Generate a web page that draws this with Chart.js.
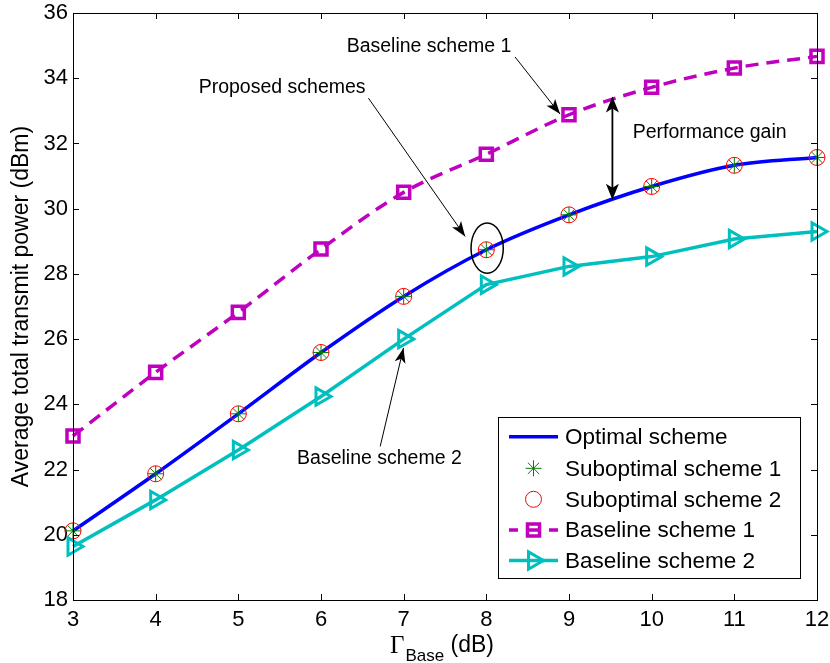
<!DOCTYPE html>
<html><head><meta charset="utf-8">
<script src="https://cdn.jsdelivr.net/npm/chart.js@4/dist/chart.umd.min.js"></script>
<style>html,body{margin:0;padding:0;background:#fff;}#wrap{width:830px;height:663px;position:relative;}</style>
</head><body><div id="wrap"><canvas id="c" width="830" height="663"></canvas></div>
<script>
// ---- data ----
const xValues = [3, 4, 5, 6, 7, 8, 9, 10, 11, 12];
const optimal = [20.12, 21.87, 23.71, 25.59, 27.31, 28.74, 29.81, 30.68, 31.33, 31.57];
const suboptimal1 = [20.12, 21.87, 23.71, 25.59, 27.31, 28.74, 29.81, 30.68, 31.33, 31.57];
const suboptimal2 = [20.12, 21.87, 23.71, 25.59, 27.31, 28.74, 29.81, 30.68, 31.33, 31.57];
const baseline1 = [23.03, 24.98, 26.82, 28.76, 30.50, 31.67, 32.88, 33.72, 34.31, 34.67];
const baseline2 = [19.64, 21.07, 22.60, 24.24, 26.00, 27.67, 28.23, 28.53, 29.07, 29.30];
const seriesNames = ['Optimal scheme', 'Suboptimal scheme 1', 'Suboptimal scheme 2', 'Baseline scheme 1', 'Baseline scheme 2'];
const xTicks = [3, 4, 5, 6, 7, 8, 9, 10, 11, 12];
const yTicks = [18, 20, 22, 24, 26, 28, 30, 32, 34, 36];
const yAxisTitle = 'Average total transmit power (dBm)';
const xAxisTitle = ['\u0393', 'Base', '(dB)'];
const annotationTexts = [
  { text: 'Baseline scheme 1', x: 6.31, y: 34.98 },
  { text: 'Proposed schemes', x: 4.52, y: 33.71 },
  { text: 'Performance gain', x: 9.77, y: 32.34 },
  { text: 'Baseline scheme 2', x: 5.71, y: 22.35 }
];
const arrowFrom = [[8.348, 34.65], [6.574, 33.39], [6.716, 22.71]];
const arrowTo = [[8.892, 32.90], [7.744, 29.15], [6.998, 25.73]];
const gainArrow = { x: 9.525, y1: 33.44, y2: 30.27 };
const ellipseMark = { x: 8.01, y: 28.79, rx: 0.195, ry: 0.77 };

// ---- styles ----
const FONT = '"Liberation Sans", Arial, Helvetica, sans-serif';
const BLUE = '#0000FF', GREEN = '#008000', RED = '#FF0000', MAG = '#BF00BF', CYAN = '#00BFBF';

const pts = arr => xValues.map((x, i) => ({ x: x, y: arr[i] }));

function drawMarker(ctx, style, x, y, r, color, lw, rot) {
  ctx.save();
  ctx.strokeStyle = color; ctx.lineWidth = lw; ctx.setLineDash([]);
  ctx.beginPath();
  if (style === 'star') {
    for (let k = 0; k < 4; k++) {
      const a = k * Math.PI / 4;
      ctx.moveTo(x - Math.cos(a) * r, y - Math.sin(a) * r);
      ctx.lineTo(x + Math.cos(a) * r, y + Math.sin(a) * r);
    }
  } else if (style === 'circle') {
    ctx.arc(x, y, r, 0, Math.PI * 2);
  } else if (style === 'rect') {
    const s = r * Math.SQRT1_2;
    ctx.rect(x - s, y - s, 2 * s, 2 * s);
  } else if (style === 'triangle') {
    let rad = (rot || 0) * Math.PI / 180;
    ctx.moveTo(x + Math.sin(rad) * r, y - Math.cos(rad) * r);
    rad += 2 * Math.PI / 3;
    ctx.lineTo(x + Math.sin(rad) * r, y - Math.cos(rad) * r);
    rad += 2 * Math.PI / 3;
    ctx.lineTo(x + Math.sin(rad) * r, y - Math.cos(rad) * r);
    ctx.closePath();
  }
  ctx.stroke();
  ctx.restore();
}

function arrowHead(ctx, x1, y1, x2, y2, len, half) {
  const a = Math.atan2(y2 - y1, x2 - x1);
  const c = Math.cos(a), s = Math.sin(a);
  const bx = x2 - c * len, by = y2 - s * len;
  const ix = x2 - c * len * 0.75, iy = y2 - s * len * 0.75;
  ctx.beginPath();
  ctx.moveTo(x2, y2);
  ctx.lineTo(bx - s * half, by + c * half);
  ctx.lineTo(ix, iy);
  ctx.lineTo(bx + s * half, by - c * half);
  ctx.closePath();
  ctx.fill();
}

const extras = {
  id: 'extras',
  afterDraw(chart) {
    const ctx = chart.ctx, a = chart.chartArea;
    const xs = chart.scales.x, ys = chart.scales.y;
    const px = v => xs.getPixelForValue(v), py = v => ys.getPixelForValue(v);
    ctx.save();
    // box
    ctx.strokeStyle = '#000'; ctx.lineWidth = 1; ctx.setLineDash([]);
    ctx.strokeRect(Math.round(a.left) + 0.5, Math.round(a.top) + 0.5, Math.round(a.right - a.left), Math.round(a.bottom - a.top));
    const T = 6;
    ctx.beginPath();
    xTicks.forEach(t => {
      const x = Math.round(px(t)) + 0.5;
      ctx.moveTo(x, a.bottom); ctx.lineTo(x, a.bottom - T);
      ctx.moveTo(x, a.top); ctx.lineTo(x, a.top + T);
    });
    yTicks.forEach(t => {
      const y = Math.round(py(t)) + 0.5;
      ctx.moveTo(a.left, y); ctx.lineTo(a.left + T, y);
      ctx.moveTo(a.right, y); ctx.lineTo(a.right - T, y);
    });
    ctx.stroke();

    // axis titles
    ctx.fillStyle = '#000';
    ctx.save();
    ctx.translate(22, (a.top + a.bottom) / 2);
    ctx.rotate(-Math.PI / 2);
    ctx.font = '23px ' + FONT;
    ctx.textAlign = 'center'; ctx.textBaseline = 'middle';
    ctx.fillText(yAxisTitle, 0, 0);
    ctx.restore();

    const fG = '25px "Liberation Serif", "Times New Roman", serif';
    const fS = '17px ' + FONT, fD = '23px ' + FONT;
    ctx.textBaseline = 'alphabetic'; ctx.textAlign = 'left';
    ctx.font = fG; const wG = ctx.measureText(xAxisTitle[0]).width;
    ctx.font = fS; const wS = ctx.measureText(xAxisTitle[1]).width;
    ctx.font = fD; const wD = ctx.measureText(' ' + xAxisTitle[2]).width;
    const total = wG + 1 + wS + wD;
    let sx = (a.left + a.right) / 2 - total / 2 - 3;
    ctx.font = fG; ctx.fillText(xAxisTitle[0], sx, 653); sx += wG + 1;
    ctx.font = fS; ctx.fillText(xAxisTitle[1], sx, 661); sx += wS;
    ctx.font = fD; ctx.fillText(' ' + xAxisTitle[2], sx, 652);

    // annotations
    ctx.font = '19.5px ' + FONT;
    ctx.textBaseline = 'middle'; ctx.textAlign = 'left';
    annotationTexts.forEach(t => ctx.fillText(t.text, px(t.x), py(t.y)));
    ctx.strokeStyle = '#000'; ctx.fillStyle = '#000'; ctx.lineWidth = 1;
    arrowFrom.forEach((f, i) => {
      const x1 = px(f[0]), y1 = py(f[1]), x2 = px(arrowTo[i][0]), y2 = py(arrowTo[i][1]);
      ctx.beginPath(); ctx.moveTo(x1, y1); ctx.lineTo(x2, y2); ctx.stroke();
      arrowHead(ctx, x1, y1, x2, y2, 15, 5.5);
    });
    {
      const gx = px(gainArrow.x), g1 = py(gainArrow.y1), g2 = py(gainArrow.y2);
      ctx.lineWidth = 1.8;
      ctx.beginPath(); ctx.moveTo(gx, g1 + 6); ctx.lineTo(gx, g2 - 6); ctx.stroke();
      arrowHead(ctx, gx, g2, gx, g1, 16, 6.5);
      arrowHead(ctx, gx, g1, gx, g2, 16, 6.5);
    }
    {
      const ex = px(ellipseMark.x), ey = py(ellipseMark.y);
      const rx = Math.abs(px(ellipseMark.x + ellipseMark.rx) - ex);
      const ry = Math.abs(py(ellipseMark.y + ellipseMark.ry) - ey);
      ctx.lineWidth = 1.5;
      ctx.beginPath(); ctx.ellipse(ex, ey, rx, ry, 0, 0, Math.PI * 2); ctx.stroke();
    }

    // legend
    const L = { x: 498.5, y: 417.5, w: 302, h: 161 };
    ctx.fillStyle = '#fff'; ctx.fillRect(L.x, L.y, L.w, L.h);
    ctx.strokeStyle = '#000'; ctx.lineWidth = 1; ctx.strokeRect(L.x, L.y, L.w, L.h);
    const rowY = [436.7, 468.3, 499.3, 530, 560.5];
    const lx1 = 509, lx2 = 558, mx = 533.5, tx = 565;
    ctx.font = '22.5px ' + FONT; ctx.textBaseline = 'middle'; ctx.textAlign = 'left';
    chart.data.datasets.forEach((ds, i) => {
      const y = rowY[i];
      if (ds.showLine !== false) {
        ctx.save();
        ctx.strokeStyle = ds.borderColor; ctx.lineWidth = ds.borderWidth;
        if (ds.borderDash) {
          ctx.beginPath(); ctx.moveTo(lx1, y); ctx.lineTo(lx1 + 9, y); ctx.moveTo(lx2 - 9, y); ctx.lineTo(lx2, y); ctx.stroke();
        } else {
          ctx.beginPath(); ctx.moveTo(lx1, y); ctx.lineTo(lx2, y); ctx.stroke();
        }
        ctx.restore();
      }
      if (ds.pointRadius > 0) {
        if (ds.borderDash) {
          ctx.save(); ctx.strokeStyle = ds.borderColor; ctx.lineWidth = ds.borderWidth;
          ctx.beginPath(); ctx.moveTo(mx - 5, y); ctx.lineTo(mx + 5, y); ctx.stroke(); ctx.restore();
        }
        drawMarker(ctx, ds.pointStyle, mx, y, ds.pointRadius, ds.pointBorderColor, ds.pointBorderWidth, ds.pointRotation);
      }
      ctx.fillStyle = '#000';
      ctx.fillText(ds.label, tx, y + 1);
    });
    ctx.restore();
  }
};

Chart.defaults.font.family = FONT;
Chart.defaults.color = '#000';

new Chart(document.getElementById('c'), {
  type: 'line',
  data: {
    datasets: [
      { label: seriesNames[0], data: pts(optimal), borderColor: BLUE, borderWidth: 3.5, pointRadius: 0,
        cubicInterpolationMode: 'monotone', clip: false, order: 5, fill: false },
      { label: seriesNames[1], data: pts(suboptimal1), showLine: false, pointStyle: 'star', pointRadius: 8,
        pointBorderColor: GREEN, borderColor: GREEN, pointBorderWidth: 1, pointBackgroundColor: 'transparent', clip: false, order: 4 },
      { label: seriesNames[2], data: pts(suboptimal2), showLine: false, pointStyle: 'circle', pointRadius: 8,
        pointBorderColor: RED, borderColor: RED, pointBorderWidth: 1, pointBackgroundColor: 'transparent', clip: false, order: 3 },
      { label: seriesNames[3], data: pts(baseline1), borderColor: MAG, borderWidth: 3.5, borderDash: [13, 8],
        cubicInterpolationMode: 'monotone', pointStyle: 'rect', pointRadius: 8.5, pointBorderColor: MAG, pointBorderWidth: 3.5,
        pointBackgroundColor: 'transparent', clip: false, order: 2, fill: false },
      { label: seriesNames[4], data: pts(baseline2), borderColor: CYAN, borderWidth: 3.5, tension: 0,
        pointStyle: 'triangle', pointRotation: 90, pointRadius: 10, pointBorderColor: CYAN, pointBorderWidth: 3,
        pointBackgroundColor: 'transparent', clip: false, order: 1, fill: false }
    ]
  },
  options: {
    responsive: false, animation: false, devicePixelRatio: 1,
    layout: { padding: { top: 13, right: 13, left: 0, bottom: 0 } },
    plugins: { legend: { display: false }, tooltip: { enabled: false } },
    elements: { point: { hoverRadius: 0 } },
    scales: {
      x: { type: 'linear', min: 3, max: 12,
        afterBuildTicks: s => { s.ticks = xTicks.map(v => ({ value: v })); },
        afterFit: s => { s.height = 63; s.paddingLeft = 0; s.paddingRight = 0; },
        grid: { display: false, drawTicks: false }, border: { display: false },
        ticks: { font: { size: 22 }, padding: 7, autoSkip: false, maxRotation: 0, color: '#000' } },
      y: { type: 'linear', min: 18, max: 36,
        afterBuildTicks: s => { s.ticks = yTicks.map(v => ({ value: v })); },
        afterFit: s => { s.width = 73; s.paddingTop = 0; s.paddingBottom = 0; },
        grid: { display: false, drawTicks: false }, border: { display: false },
        ticks: { font: { size: 22 }, padding: 5, color: '#000' } }
    }
  },
  plugins: [extras]
});
</script></body></html>
